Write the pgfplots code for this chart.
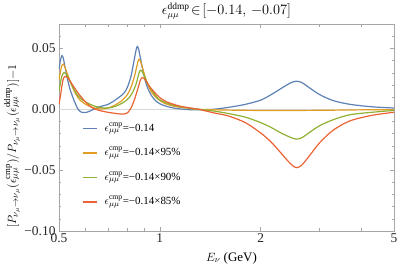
\documentclass[border=0pt]{standalone}
\usepackage{pgfplots}
\pgfplotsset{compat=1.18}
\usepackage{fontspec}
\setmainfont{Liberation Serif}
\definecolor{mmaBlue}{RGB}{94,129,181}
\definecolor{mmaOrange}{RGB}{225,156,36}
\definecolor{mmaGreen}{RGB}{143,176,50}
\definecolor{mmaRed}{RGB}{235,98,53}
\newcommand{\lline}[1]{\textcolor{#1}{\rule[0.45ex]{14bp}{1.6bp}}\hspace{8bp}}
\begin{document}
\begin{tikzpicture}
\path[use as bounding box] (-59bp,-38bp) rectangle (356bp,231bp);
\begin{axis}[
  at={(0,0)}, anchor=south west,
  scale only axis, width=335bp, height=207bp,
  xmode=log, xmin=0.5, xmax=5, ymin=-0.10, ymax=0.07,
  axis line style={gray!70, line width=0.5pt},
  tick style={gray!70, line width=0.4pt},
  tick align=inside,
  major tick length=4bp, minor tick length=2.5bp,
  xtick={0.5,1,2,5}, xticklabels={0.5,1,2,5},
  minor xtick={0.6,0.7,0.8,0.9,3,4},
  log basis x=10,
  ytick={-0.10,-0.05,0,0.05}, yticklabels={−0.10,−0.05,0.00,0.05},
  minor ytick={-0.09,-0.08,-0.07,-0.06,-0.04,-0.03,-0.02,-0.01,0.01,0.02,0.03,0.04,0.06},
  ticklabel style={font=\fontsize{13.5}{14}\selectfont, text=black!85},
  xticklabel style={yshift=1bp},
  title={$\epsilon^{\rm ddmp}_{\mu\mu}\!\in\![-0.14,\,-0.07]$},
  title style={font=\fontsize{13.5}{14}\selectfont, yshift=-5bp},
  xlabel={$E_\nu$ (GeV)},
  xlabel style={font=\fontsize{13}{14}\selectfont, at={(axis description cs:0.515,-0.085)}, anchor=north},
  ylabel={$[P_{\nu_\mu\to\nu_\mu}(\epsilon^{\rm cmp}_{\mu\mu})/P_{\nu_\mu\to\nu_\mu}(\epsilon^{\rm ddmp}_{\mu\mu})]{-}1$},
  ylabel style={font=\fontsize{12.5}{13}\selectfont, at={(axis description cs:-0.14,0.41)}, anchor=center, rotate=0},
  legend cell align=left,
  legend style={draw=none, fill=none, at={(axis description cs:0.07,0.535)}, anchor=north west,
    row sep=10bp, font=\fontsize{11}{12}\selectfont, inner sep=0pt, column sep=0pt,
    nodes={inner xsep=0pt}},
  legend image code/.code={},
]
\addplot[gray!30, line width=0.9bp, forget plot, sharp plot] coordinates {(0.5,0) (5,0)};
\addplot[draw=mmaBlue, line width=1.2bp, smooth, tension=0.5] coordinates {(0.5,0.033)(0.505,0.040)(0.51,0.044)(0.515,0.042)(0.52,0.036)(0.53,0.025)(0.54,0.016)(0.555,0.007)(0.57,0.0)(0.585,-0.0025)(0.605,-0.0025)(0.63,-0.0005)(0.66,0.002)(0.70,0.004)(0.74,0.008)(0.78,0.013)(0.80,0.018)(0.82,0.027)(0.835,0.038)(0.85,0.049)(0.857,0.0515)(0.865,0.049)(0.875,0.042)(0.89,0.032)(0.91,0.021)(0.94,0.012)(0.98,0.006)(1.03,0.003)(1.1,0.001)(1.2,-0.0002)(1.3,-0.0005)(1.45,0.0)(1.6,0.0015)(1.8,0.004)(2.0,0.0075)(2.15,0.012)(2.3,0.017)(2.45,0.0215)(2.55,0.023)(2.65,0.022)(2.8,0.0175)(3.0,0.012)(3.3,0.007)(3.7,0.004)(4.3,0.002)(5.0,0.001)};
\addlegendentry{\lline{mmaBlue}$\epsilon^{\rm cmp}_{\mu\mu}$=−0.14}
\addplot[draw=mmaOrange, line width=1.2bp, smooth, tension=0.5] coordinates {(0.5,0.024)(0.505,0.031)(0.51,0.036)(0.515,0.037)(0.52,0.035)(0.53,0.029)(0.545,0.020)(0.56,0.013)(0.58,0.007)(0.61,0.003)(0.65,0.0005)(0.69,0.0005)(0.73,0.003)(0.77,0.007)(0.80,0.012)(0.82,0.018)(0.84,0.027)(0.855,0.036)(0.865,0.041)(0.875,0.0395)(0.89,0.033)(0.91,0.024)(0.94,0.015)(0.98,0.009)(1.03,0.005)(1.1,0.0025)(1.2,0.001)(1.3,0.0)(1.6,-0.0007)(2.0,-0.001)(2.55,-0.001)(3.2,-0.0008)(4.0,-0.0005)(5.0,-0.0003)};
\addlegendentry{\lline{mmaOrange}$\epsilon^{\rm cmp}_{\mu\mu}$=−0.14×95\%}
\addplot[draw=mmaGreen, line width=1.2bp, smooth, tension=0.5] coordinates {(0.5,0.015)(0.505,0.022)(0.51,0.027)(0.517,0.030)(0.525,0.029)(0.535,0.025)(0.55,0.018)(0.57,0.011)(0.60,0.006)(0.64,0.0025)(0.68,0.001)(0.72,0.0015)(0.76,0.004)(0.80,0.008)(0.83,0.014)(0.85,0.021)(0.865,0.029)(0.875,0.032)(0.885,0.031)(0.90,0.027)(0.92,0.021)(0.95,0.015)(0.99,0.0085)(1.05,0.005)(1.15,0.002)(1.3,0.0)(1.45,-0.0015)(1.6,-0.0035)(1.8,-0.0065)(2.0,-0.011)(2.15,-0.015)(2.3,-0.0195)(2.45,-0.023)(2.55,-0.0245)(2.65,-0.0235)(2.8,-0.019)(3.0,-0.0135)(3.3,-0.0085)(3.7,-0.0045)(4.3,-0.0025)(5.0,-0.001)};
\addlegendentry{\lline{mmaGreen}$\epsilon^{\rm cmp}_{\mu\mu}$=−0.14×90\%}
\addplot[draw=mmaRed, line width=1.2bp, smooth, tension=0.5] coordinates {(0.5,0.004)(0.505,0.011)(0.51,0.019)(0.515,0.025)(0.522,0.027)(0.53,0.026)(0.54,0.023)(0.555,0.018)(0.575,0.012)(0.60,0.006)(0.63,0.001)(0.66,-0.001)(0.70,-0.0025)(0.74,-0.0035)(0.775,-0.004)(0.80,-0.003)(0.82,0.001)(0.84,0.008)(0.86,0.017)(0.875,0.024)(0.885,0.026)(0.895,0.0255)(0.91,0.023)(0.93,0.019)(0.96,0.0145)(1.0,0.0095)(1.05,0.006)(1.15,0.0025)(1.3,0.0)(1.45,-0.003)(1.6,-0.0055)(1.8,-0.011)(2.0,-0.0195)(2.15,-0.027)(2.3,-0.036)(2.45,-0.0445)(2.55,-0.048)(2.65,-0.046)(2.8,-0.038)(3.0,-0.0275)(3.3,-0.017)(3.7,-0.0095)(4.3,-0.005)(5.0,-0.0025)};
\addlegendentry{\lline{mmaRed}$\epsilon^{\rm cmp}_{\mu\mu}$=−0.14×85\%}
\end{axis}
\end{tikzpicture}
\end{document}
